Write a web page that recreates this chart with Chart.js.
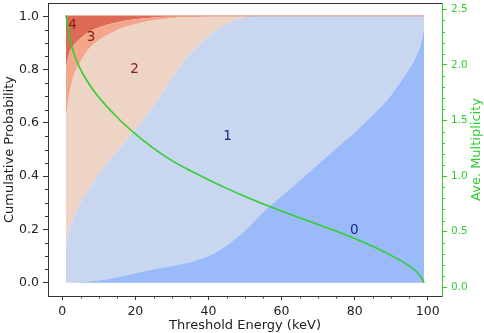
<!DOCTYPE html>
<html><head><meta charset="utf-8">
<script src="https://cdn.jsdelivr.net/npm/chart.js@4/dist/chart.umd.min.js"></script>
<style>html,body{margin:0;padding:0;background:#fff}canvas{display:block}</style>
</head><body>
<canvas id="c" width="484" height="333"></canvas>
<script>
// ---- data ----
const energy = [1,2,3,5,7.5,10,15,20,25,30,35,40,45,50,55,60,65,70,75,80,85,90,95,97,98,99];
const cumP0 = [0,0,0.001,0.002,0.005,0.008,0.02,0.035,0.05,0.063,0.078,0.1,0.14,0.195,0.265,0.325,0.385,0.445,0.505,0.565,0.63,0.705,0.805,0.855,0.89,0.955];
const cumP1 = [0.135,0.2,0.24,0.30,0.355,0.41,0.495,0.575,0.665,0.77,0.86,0.925,0.97,0.997,1,1,1,1,1,1,1,1,1,1,1,1];
const cumP2 = [0.615,0.71,0.77,0.83,0.88,0.91,0.948,0.97,0.985,0.993,0.998,1,1,1,1,1,1,1,1,1,1,1,1,1,1,1];
const cumP3 = [0.808,0.865,0.89,0.918,0.943,0.958,0.978,0.989,0.996,1,1,1,1,1,1,1,1,1,1,1,1,1,1,1,1,1];
const cumP4 = [1,1,1,1,1,1,1,1,1,1,1,1,1,1,1,1,1,1,1,1,1,1,1,1,1,1];
const multiplicity = [2.445,2.26,2.12,1.96,1.82,1.71,1.53,1.38,1.25,1.14,1.05,0.9675,0.89,0.8175,0.75,0.686,0.625,0.565,0.504,0.439,0.3665,0.2865,0.1915,0.14,0.10,0.04];
const xTicks = [0,20,40,60,80,100];
const yTicks = [0,0.2,0.4,0.6,0.8,1.0];
const y2Ticks = [0,0.5,1.0,1.5,2.0,2.5];
const regionNames = ['0','1','2','3','4'];
const regionNameX = [79.9,45.2,19.8,7.9,2.8];
const regionNameY = [0.203,0.555,0.804,0.924,0.972];

// ---- styles ----
const FONT = 'DejaVu Sans';
const GREEN = '#32cd32';
const AXC = '#333333';
const TXT = '#222222';
const fillColors = ['#9bbaf9','#c8d6ef','#eed4c5','#f3a68a','#dc6a55'];
const labelColors = ['#1c2490','#1c2490','#8b1a1a','#8b1a1a','#8b1a1a'];

const pts = arr => energy.map((e,i)=>({x:e,y:arr[i]}));
const cum = [cumP0,cumP1,cumP2,cumP3,cumP4];

const datasets = [{
  data: pts(multiplicity), yAxisID:'y1', borderColor:GREEN, borderWidth:1.6,
  pointRadius:0, fill:false, cubicInterpolationMode:'monotone'
}];
cum.forEach((arr,i)=>{
  datasets.push({
    data: pts(arr), yAxisID:'y',
    borderColor: i===4 ? '#e4685c' : 'rgba(0,0,0,0)',
    borderWidth: i===4 ? 1.6 : 0,
    backgroundColor: fillColors[i],
    fill: i===0 ? 'origin' : '-1',
    pointRadius:0, cubicInterpolationMode:'monotone'
  });
});

const extras = {
  id:'extras',
  afterDatasetsDraw(chart){
    const ctx = chart.ctx, xs = chart.scales.x, ys = chart.scales.y;
    ctx.save();
    ctx.font = '13.5px "' + FONT + '"';
    ctx.textAlign = 'center';
    ctx.textBaseline = 'alphabetic';
    regionNames.forEach((t,i)=>{
      ctx.fillStyle = labelColors[i];
      ctx.fillText(t, xs.getPixelForValue(regionNameX[i]), ys.getPixelForValue(regionNameY[i]) + 4.9);
    });
    ctx.restore();
  },
  afterDraw(chart){
    const ctx = chart.ctx, a = chart.chartArea;
    const {x, y, y1} = chart.scales;
    ctx.save();
    ctx.lineWidth = 1;
    ctx.strokeStyle = AXC;
    ctx.beginPath(); ctx.moveTo(a.left, Math.round(a.top)+0.5); ctx.lineTo(a.right, Math.round(a.top)+0.5); ctx.stroke();
    ctx.beginPath();
    for (let v=0; v<=100; v+=5) { if (v%20===0) continue;
      const p = Math.round(x.getPixelForValue(v))+0.5; ctx.moveTo(p, a.bottom); ctx.lineTo(p, a.bottom+2.5); }
    for (let k=0; k<=20; k++) { if (k%4===0) continue; const v = k*0.05;
      const p = Math.round(y.getPixelForValue(v))+0.5; ctx.moveTo(a.left, p); ctx.lineTo(a.left-3, p); }
    ctx.stroke();
    ctx.strokeStyle = GREEN;
    ctx.beginPath();
    for (let k=0; k<=25; k++) { if (k%5===0) continue; const v = k*0.1;
      const p = Math.round(y1.getPixelForValue(v))+0.5; ctx.moveTo(a.right, p); ctx.lineTo(a.right+3, p); }
    ctx.stroke();
    ctx.fillStyle = GREEN;
    ctx.font = '13px "' + FONT + '"';
    ctx.textAlign = 'center'; ctx.textBaseline = 'middle';
    ctx.translate(476.5, (a.top+a.bottom)/2);
    ctx.rotate(-Math.PI/2);
    ctx.fillText('Ave. Multiplicity', 0, 0);
    ctx.restore();
  }
};

new Chart(document.getElementById('c'), {
  type:'line',
  data:{datasets},
  plugins:[extras],
  options:{
    responsive:false, devicePixelRatio:1, animation:false,
    layout:{padding:{top:3,left:0,right:0,bottom:0}},
    plugins:{legend:{display:false}, tooltip:{enabled:false}},
    scales:{
      x:{type:'linear', min:-3.9, max:103.9,
        afterBuildTicks:s=>{ s.ticks = xTicks.map(v=>({value:v})); },
        afterFit:s=>{ s.height=37; s.paddingLeft=0; s.paddingRight=0; },
        grid:{display:true, drawOnChartArea:false, drawTicks:true, tickLength:4, color:AXC},
        border:{display:true, color:AXC, width:1},
        ticks:{color:TXT, font:{family:FONT, size:12.5}, padding:4, maxRotation:0, autoSkip:false, callback:v=>String(v)},
        title:{display:true, text:'Threshold Energy (keV)', color:TXT, font:{family:FONT, size:13}, padding:0}
      },
      y:{type:'linear', position:'left', min:-0.05, max:1.05,
        afterBuildTicks:s=>{ s.ticks = yTicks.map(v=>({value:v})); },
        afterFit:s=>{ s.width=48; s.paddingTop=0; s.paddingBottom=0; },
        grid:{display:true, drawOnChartArea:false, drawTicks:true, tickLength:5, color:AXC},
        border:{display:true, color:AXC, width:1},
        ticks:{color:TXT, font:{family:FONT, size:12.5}, padding:4, autoSkip:false, callback:v=>Number(v).toFixed(1)},
        title:{display:true, text:'Cumulative Probability', color:TXT, font:{family:FONT, size:13}, padding:{top:2,bottom:0}}
      },
      y1:{type:'linear', position:'right', min:-0.078, max:2.557,
        afterBuildTicks:s=>{ s.ticks = y2Ticks.map(v=>({value:v})); },
        afterFit:s=>{ s.width=42; s.paddingTop=0; s.paddingBottom=0; },
        grid:{display:true, drawOnChartArea:false, drawTicks:true, tickLength:5, color:GREEN},
        border:{display:true, color:GREEN, width:1},
        ticks:{color:GREEN, font:{family:FONT, size:10.5}, padding:4, autoSkip:false, callback:v=>Number(v).toFixed(1)},
        title:{display:false}
      }
    }
  }
});
</script>
</body></html>
